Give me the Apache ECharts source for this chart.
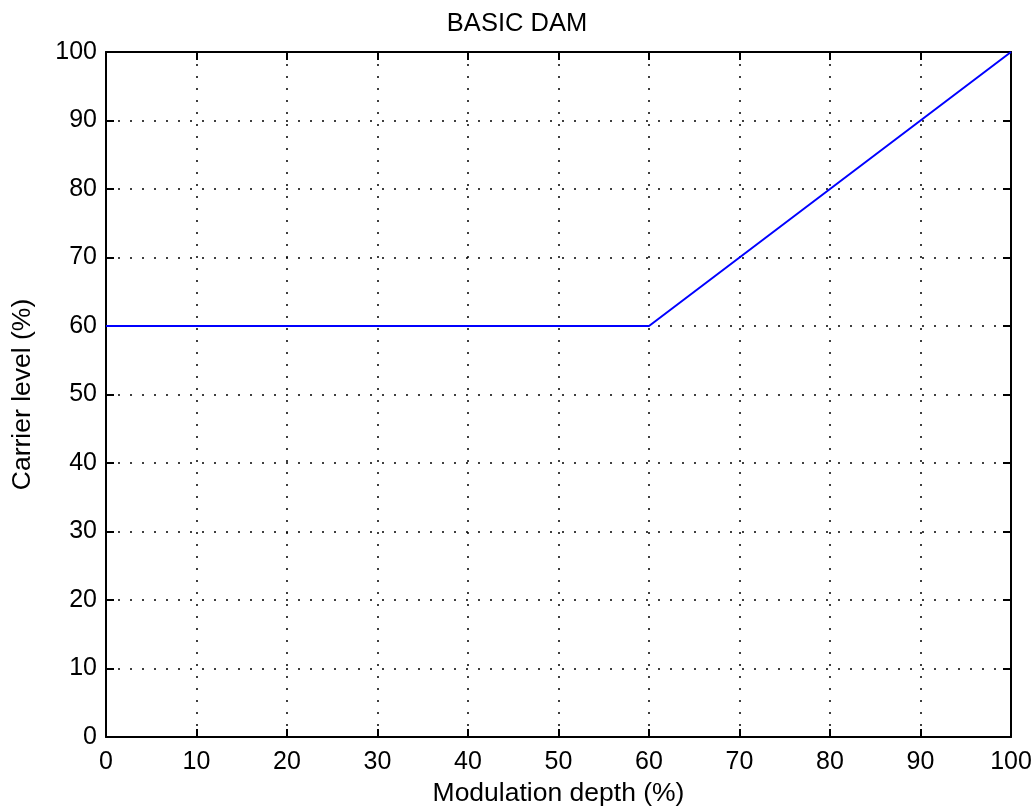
<!DOCTYPE html>
<html>
<head>
<meta charset="utf-8">
<script src="https://cdn.jsdelivr.net/npm/echarts@6/dist/echarts.min.js"></script>
<style>
  html, body { margin: 0; padding: 0; background: #fff; }
  #chart { width: 1034px; height: 808px; }
</style>
</head>
<body>
<div id="chart"></div>
<script>
// values
const depth = [0, 60, 100];
const carrier = [60, 60, 100];
const axisTicks = [0, 10, 20, 30, 40, 50, 60, 70, 80, 90, 100];

const chart = echarts.init(document.getElementById("chart"));
const font = "Liberation Sans, Arial, sans-serif";

const dotted = { color: "#000", width: 1.5, type: [2, 10] };
const frame = { color: "#000", width: 2 };

// shared axis settings (bottom/left have labels, top/right are mirrored frame)
const baseAxis = (pos, showLabel, showGrid, margin) => ({
  type: "value",
  position: pos,
  min: 0,
  max: 100,
  interval: 10,
  axisLine: { show: true, onZero: false, lineStyle: frame },
  axisTick: { show: true, inside: true, length: 8, lineStyle: frame },
  axisLabel: {
    show: showLabel,
    fontSize: 25,
    fontFamily: font,
    color: "#000",
    margin: margin,
    formatter: (v) => (axisTicks.includes(v) ? String(v) : ""),
  },
  splitLine: { show: showGrid, lineStyle: dotted },
});

chart.setOption({
  animation: false,
  title: {
    text: "BASIC DAM",
    left: "center",
    top: 6,
    textStyle: { fontSize: 25.5, fontWeight: "normal", fontFamily: font, color: "#000" },
  },
  grid: { left: 106, right: 23, top: 52, bottom: 71, outerBoundsMode: "none", containLabel: false },
  xAxis: [
    Object.assign(baseAxis("bottom", true, true, 13), {
      name: "Modulation depth (%)",
      nameLocation: "middle",
      nameGap: 41,
      nameTextStyle: { fontSize: 26.5, fontFamily: font, color: "#000" },
    }),
    baseAxis("top", false, false, 10),
  ],
  yAxis: [
    Object.assign(baseAxis("left", true, true, 9), {
      name: "Carrier level (%)",
      nameLocation: "middle",
      nameGap: 70,
      nameTextStyle: { fontSize: 26.5, fontFamily: font, color: "#000" },
    }),
    baseAxis("right", false, false, 10),
  ],
  series: [
    {
      type: "line",
      xAxisIndex: 0,
      yAxisIndex: 0,
      data: depth.map((d, i) => [d, carrier[i]]),
      showSymbol: false,
      lineStyle: { color: "#0000ff", width: 2 },
      z: 5,
    },
  ],
});
</script>
</body>
</html>
